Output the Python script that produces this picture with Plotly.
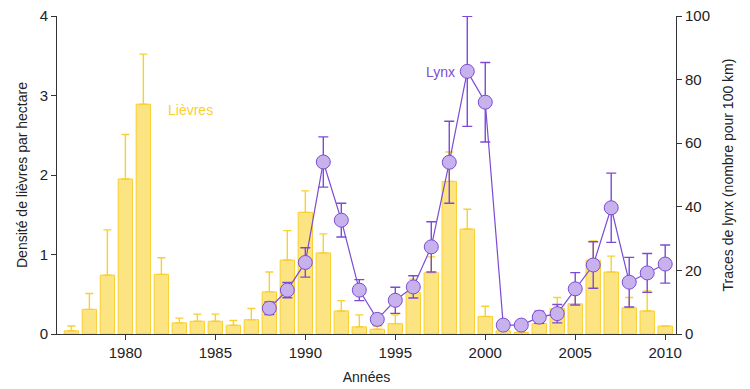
import plotly.graph_objects as go

years = list(range(1977, 2011))
hares = [0.04, 0.31, 0.74, 1.95, 2.89, 0.75, 0.14, 0.16, 0.16, 0.11, 0.18,
         0.53, 0.93, 1.53, 1.02, 0.29, 0.09, 0.06, 0.13, 0.52, 0.77, 1.92,
         1.32, 0.22, 0.04, 0.02, 0.13, 0.32, 0.38, 0.93, 0.78, 0.33, 0.29, 0.10]
hares_err_top = [0.10, 0.51, 1.31, 2.51, 3.52, 0.96, 0.20, 0.25, 0.25, 0.17, 0.32,
                 0.78, 1.30, 1.80, 1.26, 0.42, 0.24, 0.10, 0.24, 0.69, 0.97, 2.29,
                 1.57, 0.35, 0.06, 0.04, 0.18, 0.46, 0.53, 1.17, 0.98, 0.46, 0.54, None]

lynx_years = list(range(1988, 2011))
lynx = [8.1, 13.8, 22.5, 54.1, 35.8, 13.8, 4.6, 10.6, 14.8, 27.4, 54.0,
        82.6, 72.9, 2.8, 2.8, 5.3, 6.4, 14.2, 21.7, 39.7, 16.3, 19.2, 22.0]
lynx_err = [2.0, 2.4, 4.6, 7.9, 5.3, 3.3, 1.7, 4.1, 3.5, 7.9, 12.9,
            17.3, 12.5, 1.3, 1.3, 1.9, 2.9, 5.1, 7.3, 10.9, 7.8, 6.1, 6.0]

err_plus = [None if t is None else t - v for t, v in zip(hares_err_top, hares)]

GOLD = "#F9D030"
FILL = "#FDE483"
PURPLE = "#7B4CD3"
LAV = "#C8B2EE"
FONT = "Liberation Sans, Arial, sans-serif"

fig = go.Figure()
fig.add_trace(go.Bar(
    x=years, y=hares, width=0.8,
    marker=dict(color=FILL, line=dict(color=GOLD, width=1)),
    error_y=dict(type="data", symmetric=False, array=err_plus,
                 arrayminus=[0] * len(years), color=GOLD, thickness=1.4, width=4),
    showlegend=False, yaxis="y",
))
fig.add_trace(go.Scatter(
    x=lynx_years, y=lynx, mode="lines+markers", yaxis="y2",
    line=dict(color=PURPLE, width=1.2),
    marker=dict(size=14, color=LAV, line=dict(color=PURPLE, width=1)),
    error_y=dict(type="data", array=lynx_err, color=PURPLE, thickness=1.4, width=5),
    showlegend=False,
))

fig.add_annotation(x=1983.6, y=2.82, xref="x", yref="y", text="Lièvres",
                   showarrow=False, font=dict(color=GOLD, size=14, family=FONT))
fig.add_annotation(x=1997.5, y=82.4, xref="x", yref="y2", text="Lynx",
                   showarrow=False, font=dict(color=PURPLE, size=14, family=FONT))

axis_common = dict(showgrid=False, zeroline=False, showline=True, linecolor="#333",
                   linewidth=1, ticks="outside", ticklen=5, tickcolor="#333",
                   automargin=False, ticklabeloverflow="allow",
                   tickfont=dict(size=15, color="#222", family=FONT))

fig.update_layout(
    width=742, height=381,
    margin=dict(l=49, r=74, t=8, b=55),
    plot_bgcolor="white", paper_bgcolor="white",
    font=dict(family=FONT, color="#222", size=14),
    xaxis=dict(range=[1976.2, 2010.6], tickvals=[1980, 1985, 1990, 1995, 2000, 2005, 2010],
               title=dict(text="Années", font=dict(size=14), standoff=12), **axis_common),
    yaxis=dict(range=[0, 4], tickvals=[0, 1, 2, 3, 4],
               title=dict(text="Densité de lièvres par hectare", font=dict(size=14), standoff=8),
               **axis_common),
    yaxis2=dict(range=[0, 100], tickvals=[0, 20, 40, 60, 80, 100], overlaying="y", side="right",
                title=dict(text="Traces de lynx (nombre pour 100 km)", font=dict(size=14), standoff=14),
                **axis_common),
)

fig.write_html("out.html")
